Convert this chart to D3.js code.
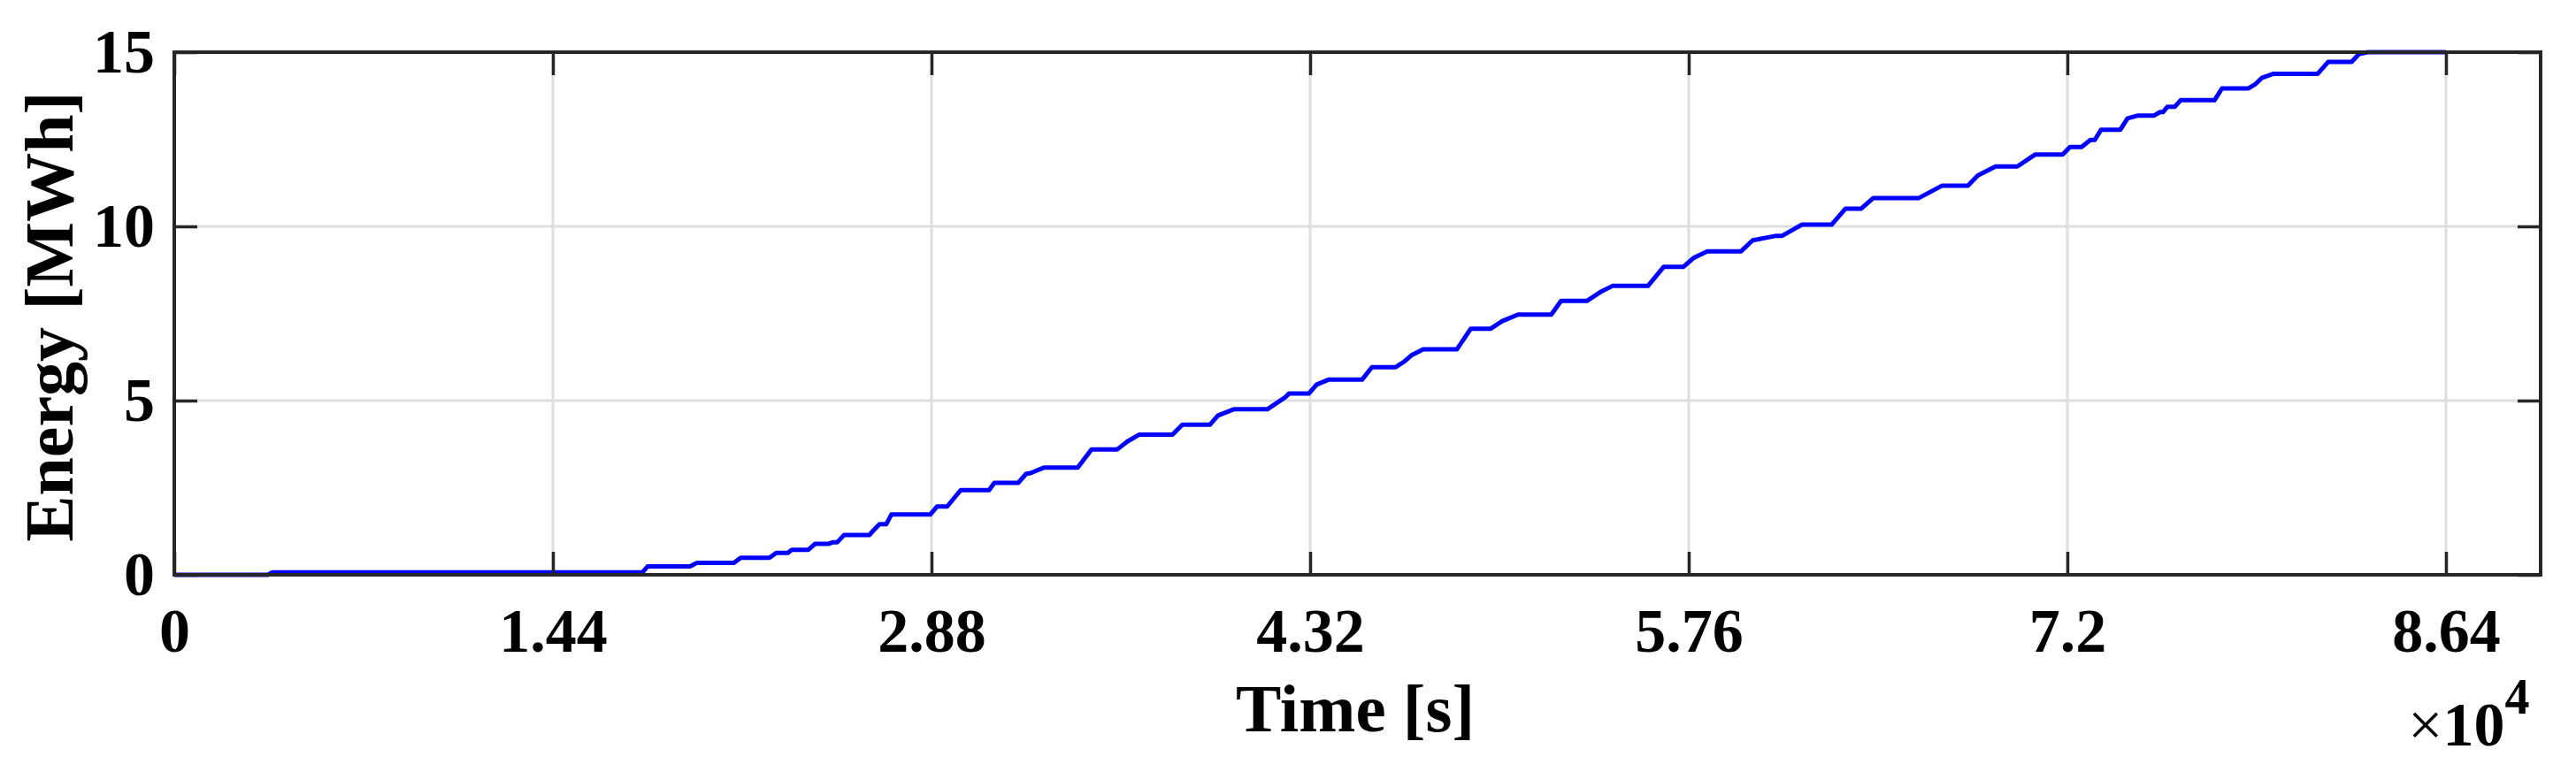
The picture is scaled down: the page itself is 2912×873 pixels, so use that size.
<!DOCTYPE html>
<html>
<head>
<meta charset="utf-8">
<script src="https://cdn.jsdelivr.net/npm/d3@7"></script>
<style>
  html, body { margin: 0; padding: 0; background: #ffffff; }
  svg { display: block; }
  text { font-family: "Liberation Serif", "Times New Roman", serif; font-weight: bold; fill: #000; }
</style>
</head>
<body>
<div id="chart"></div>
<script>
// ---- data (time in s, energy in MWh) ----
const timeData = [
  0, 3566, 3735, 17808, 18000, 19615, 19868, 21284, 21543, 22636, 22895, 23346, 23485,
  24117, 24376, 24891, 25032, 25211, 25470, 26435, 26563, 26822, 27078, 27273, 28753,
  29009, 29396, 29911, 30988, 31190, 32098, 32401, 32569, 33087, 34362, 34887, 35866,
  36236, 36690, 37965, 38342, 39395, 39695, 40294, 41572, 42248, 42393, 43150, 43449,
  43900, 45175, 45552, 46453, 46800, 47052, 47503, 48781, 49306, 50056, 50507, 51106,
  52372, 52745, 53724, 54249, 54700, 56049, 56652, 57402, 57779, 58304, 59582, 60033,
  60931, 61156, 61906, 63033, 63562, 64161, 64612, 66340, 67240, 68219, 68592, 69269,
  70096, 70769, 71822, 72101, 72539, 72876, 73044, 73280, 74010, 74289, 74683, 75299,
  75524, 75635, 75803, 76082, 76308, 77597, 77879, 78889, 79168, 79393, 79840, 81523,
  81917, 82812, 83095, 83431, 86400
];
const energyData = [
  0, 0, 0.07, 0.07, 0.24, 0.24, 0.34, 0.34, 0.49, 0.49, 0.63, 0.63, 0.72,
  0.72, 0.89, 0.89, 0.93, 0.93, 1.14, 1.14, 1.25, 1.45, 1.45, 1.73, 1.73,
  1.96, 1.96, 2.43, 2.43, 2.64, 2.64, 2.90, 2.92, 3.08, 3.08, 3.60, 3.60,
  3.82, 4.02, 4.02, 4.31, 4.31, 4.57, 4.75, 4.75, 5.09, 5.20, 5.20, 5.46,
  5.60, 5.60, 5.96, 5.96, 6.13, 6.30, 6.47, 6.47, 7.06, 7.06, 7.28, 7.47,
  7.47, 7.86, 7.86, 8.12, 8.29, 8.29, 8.84, 8.84, 9.09, 9.28, 9.28, 9.60,
  9.73, 9.73, 10.05, 10.05, 10.51, 10.51, 10.81, 10.81, 11.17, 11.17, 11.46, 11.72,
  11.72, 12.06, 12.06, 12.28, 12.28, 12.48, 12.48, 12.77, 12.77, 13.10, 13.18, 13.18,
  13.28, 13.28, 13.43, 13.43, 13.62, 13.62, 13.96, 13.96, 14.09, 14.26, 14.38, 14.38,
  14.72, 14.72, 14.95, 15.0, 15.0
];
const xTickValues = [0, 14400, 28800, 43200, 57600, 72000, 86400];
const xTickLabels = ["0", "1.44", "2.88", "4.32", "5.76", "7.2", "8.64"];
const yTickValues = [0, 5, 10, 15];
const yTickLabels = ["0", "5", "10", "15"];
const xLabel = "Time [s]";
const yLabel = "Energy [MWh]";

// ---- layout ----
const W = 2912, H = 873;
const mLeft = 197, mRight = 2872, mTop = 59, mBottom = 650;
const fontSize = 70;

const svg = d3.select("#chart").append("svg")
  .attr("width", W).attr("height", H);

const x = d3.scaleLinear().domain([0, 90000]).range([mLeft, mRight]);
const y = d3.scaleLinear().domain([0, 15]).range([mBottom, mTop]);

// grid
const grid = svg.append("g");
grid.selectAll("line.gx").data(xTickValues.slice(1)).enter().append("line")
  .attr("x1", d => x(d)).attr("x2", d => x(d))
  .attr("y1", mTop).attr("y2", mBottom)
  .attr("stroke", "#dedede").attr("stroke-width", 3);
grid.selectAll("line.gy").data(yTickValues.slice(1, -1)).enter().append("line")
  .attr("x1", mLeft).attr("x2", mRight)
  .attr("y1", d => y(d)).attr("y2", d => y(d))
  .attr("stroke", "#dedede").attr("stroke-width", 3);

// data line
const line = d3.line().x((d, i) => x(timeData[i])).y(d => y(d)).curve(d3.curveLinear);
svg.append("path")
  .datum(energyData)
  .attr("d", line)
  .attr("fill", "none")
  .attr("stroke", "#0000ff")
  .attr("stroke-width", 5)
  .attr("stroke-linejoin", "round");

// axes (ticks inward, on all four sides)
const tickLen = 26;
const axisColor = "#262626";
const xb = d3.axisBottom(x).tickValues(xTickValues).tickSizeInner(-tickLen).tickSizeOuter(0)
  .tickFormat((d, i) => xTickLabels[i]).tickPadding(37);
const gxb = svg.append("g").attr("transform", `translate(0,${mBottom})`).call(xb);
const xt = d3.axisTop(x).tickValues(xTickValues).tickSizeInner(-tickLen).tickSizeOuter(0).tickFormat("");
const gxt = svg.append("g").attr("transform", `translate(0,${mTop})`).call(xt);
const yl = d3.axisLeft(y).tickValues(yTickValues).tickSizeInner(-tickLen).tickSizeOuter(0)
  .tickFormat((d, i) => yTickLabels[i]).tickPadding(22);
const gyl = svg.append("g").attr("transform", `translate(${mLeft},0)`).call(yl);
const yr = d3.axisRight(y).tickValues(yTickValues).tickSizeInner(-tickLen).tickSizeOuter(0).tickFormat("");
const gyr = svg.append("g").attr("transform", `translate(${mRight},0)`).call(yr);

[gxb, gxt, gyl, gyr].forEach(g => {
  g.select(".domain").remove();
  g.selectAll(".tick line").attr("stroke", axisColor).attr("stroke-width", 3.5);
  g.selectAll(".tick text")
    .attr("font-family", "'Liberation Serif', 'Times New Roman', serif")
    .attr("font-weight", "bold")
    .attr("font-size", fontSize)
    .attr("fill", "#000");
});

// box
svg.append("rect")
  .attr("x", mLeft).attr("y", mTop)
  .attr("width", mRight - mLeft).attr("height", mBottom - mTop)
  .attr("fill", "none").attr("stroke", axisColor).attr("stroke-width", 4);

// axis labels
svg.append("text")
  .attr("x", 1532).attr("y", 827)
  .attr("text-anchor", "middle")
  .attr("font-size", 77)
  .text(xLabel);

svg.append("text")
  .attr("transform", `translate(82,358) rotate(-90)`)
  .attr("text-anchor", "middle")
  .attr("font-size", 78)
  .text(yLabel);

// exponent
const ex = svg.append("text").attr("x", 2722).attr("y", 843).attr("font-size", fontSize);
ex.append("tspan").attr("font-weight", "normal").text("\u00d7");
ex.append("tspan").text("10");
ex.append("tspan").attr("dy", -36).attr("font-size", 56).text("4");
</script>
</body>
</html>
